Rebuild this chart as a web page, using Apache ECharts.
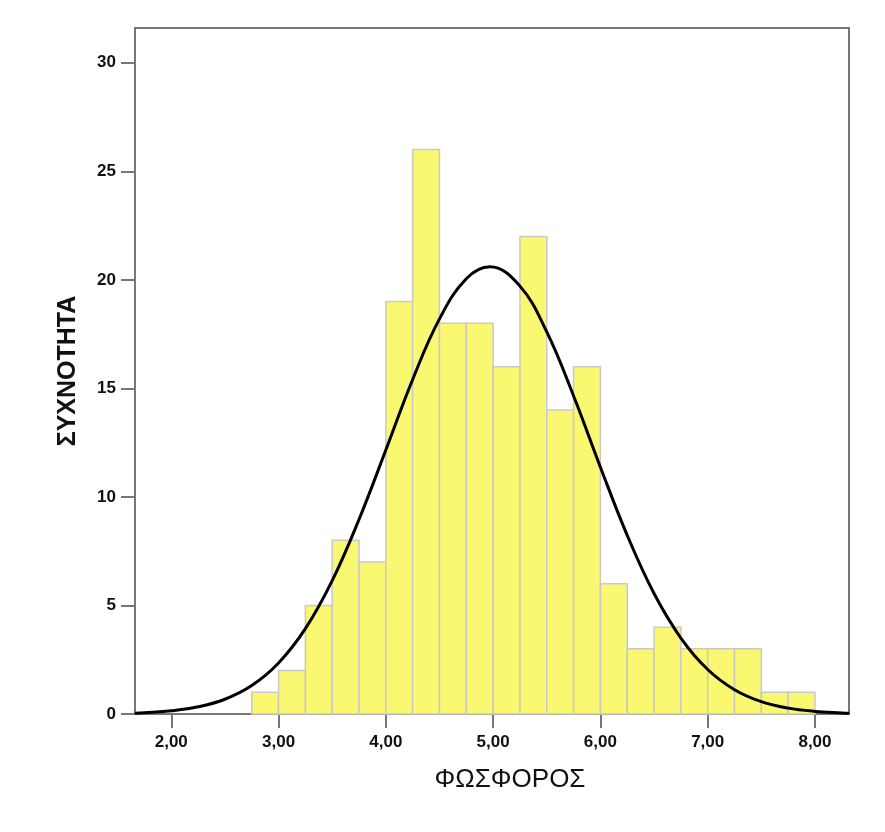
<!DOCTYPE html>
<html>
<head>
<meta charset="utf-8">
<script src="https://cdn.jsdelivr.net/npm/echarts@6/dist/echarts.min.js"></script>
<style>
  html, body { margin: 0; padding: 0; background: #fff; }
  #chart { width: 885px; height: 832px; }
</style>
</head>
<body>
<div id="chart"></div>
<script>
// histogram bins (lower edge, upper edge) and counts
const binStart = [2.75, 3.00, 3.25, 3.50, 3.75, 4.00, 4.25, 4.50, 4.75, 5.00, 5.25,
                  5.50, 5.75, 6.00, 6.25, 6.50, 6.75, 7.00, 7.25, 7.50, 7.75];
const binEnd   = [3.00, 3.25, 3.50, 3.75, 4.00, 4.25, 4.50, 4.75, 5.00, 5.25, 5.50,
                  5.75, 6.00, 6.25, 6.50, 6.75, 7.00, 7.25, 7.50, 7.75, 8.00];
const counts   = [1, 2, 5, 8, 7, 19, 26, 18, 18, 16, 22,
                  14, 16, 6, 3, 4, 3, 3, 3, 1, 1];

// normal curve
const curveX = [1.66, 1.75, 2.00, 2.25, 2.50, 2.75, 3.00, 3.25, 3.50, 3.75, 4.00, 4.25, 4.50,
                4.75, 4.97, 5.25, 5.50, 5.75, 6.00, 6.25, 6.50, 6.75, 7.00, 7.25,
                7.50, 7.75, 8.00, 8.25, 8.32];
const curveY = [0.04, 0.06, 0.15, 0.33, 0.68, 1.31, 2.35, 3.93, 6.14, 8.96, 12.16, 15.41, 18.2,
                20.05, 20.6, 19.71, 17.6, 14.65, 11.37, 8.23, 5.55, 3.5, 2.05, 1.12,
                0.57, 0.27, 0.12, 0.05, 0.035];

const xTicks = [2, 3, 4, 5, 6, 7, 8];
const yTicks = [0, 5, 10, 15, 20, 25, 30];

const chart = echarts.init(document.getElementById('chart'));

const axisColor = '#777';
const labelFont = { color: '#111', fontWeight: 'bold', fontSize: 17, fontFamily: 'Liberation Sans' };

chart.setOption({
  animation: false,
  grid: {
    left: 135, top: 28, right: 36, bottom: 118,
    show: true, borderColor: axisColor, borderWidth: 2, backgroundColor: '#fff'
  },
  xAxis: {
    type: 'value',
    min: 1.662, max: 8.317,
    name: 'ΦΩΣΦΟΡΟΣ',
    nameLocation: 'middle',
    nameGap: 53,
    nameTextStyle: { color: '#111', fontSize: 26, fontFamily: 'Liberation Sans', padding: [0, 0, 0, 36] },
    splitLine: { show: false },
    axisLine: { lineStyle: { color: axisColor, width: 2 } },
    axisTick: { length: 14, customValues: xTicks, lineStyle: { color: axisColor, width: 2 } },
    axisLabel: Object.assign({
      customValues: xTicks, margin: 20,
      formatter: v => v.toFixed(2).replace('.', ',')
    }, labelFont)
  },
  yAxis: {
    type: 'value',
    min: 0, max: 31.6,
    name: 'ΣΥΧΝΟΤΗΤΑ',
    nameLocation: 'middle',
    nameGap: 54,
    nameTextStyle: { color: '#111', fontSize: 25, fontWeight: 'bold', fontFamily: 'Liberation Sans' },
    splitLine: { show: false },
    axisLine: { show: true, lineStyle: { color: axisColor, width: 2 } },
    axisTick: { show: true, length: 14, customValues: yTicks, lineStyle: { color: axisColor, width: 2 } },
    axisLabel: Object.assign({ customValues: yTicks, margin: 19 }, labelFont)
  },
  series: [
    {
      type: 'custom',
      data: counts.map((c, i) => [binStart[i], binEnd[i], c]),
      encode: { x: [0, 1], y: 2 },
      renderItem: (params, api) => {
        const p0 = api.coord([api.value(0), api.value(2)]);
        const p1 = api.coord([api.value(1), 0]);
        return {
          type: 'rect',
          shape: { x: p0[0], y: p0[1], width: p1[0] - p0[0], height: p1[1] - p0[1] },
          style: { fill: '#faf770', stroke: '#c9c9c9', lineWidth: 1.5 }
        };
      }
    },
    {
      type: 'line',
      data: curveX.map((x, i) => [x, curveY[i]]),
      smooth: 0.4,
      showSymbol: false,
      lineStyle: { color: '#000', width: 3 },
      z: 5
    }
  ]
});
</script>
</body>
</html>
